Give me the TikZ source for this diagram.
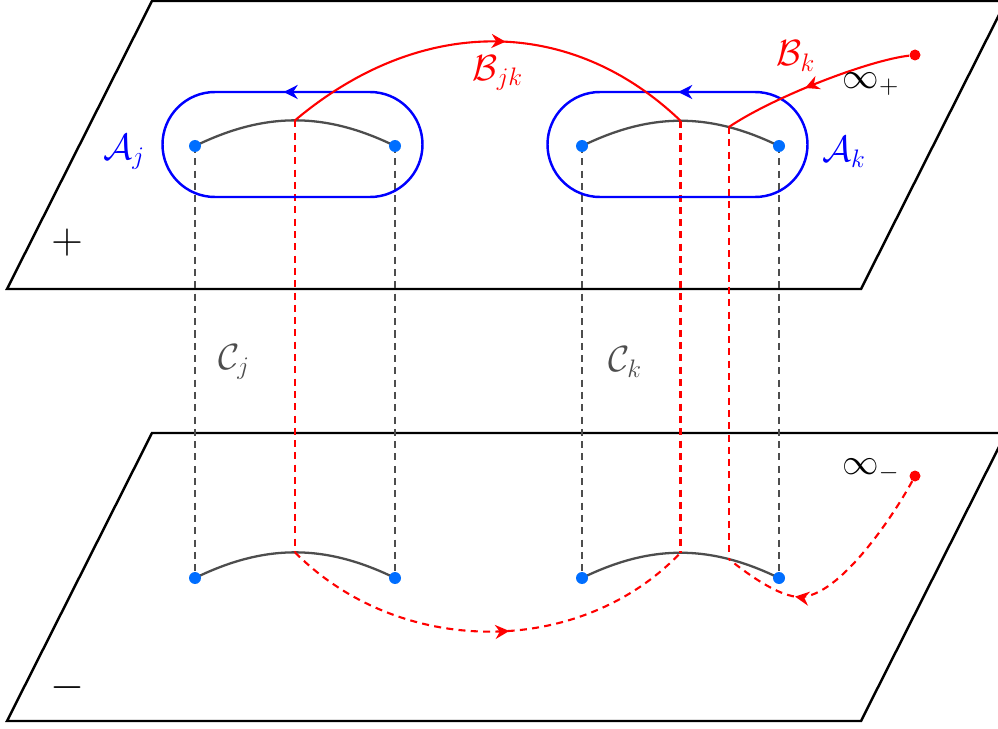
\documentclass[tikz,border=0pt]{standalone}
\usepackage{amsmath,amssymb}
\usepackage{tikz}
\usetikzlibrary{arrows.meta,decorations.markings}

\definecolor{cutblue}{RGB}{0,110,255}
\definecolor{cutgray}{RGB}{77,77,77}

\begin{document}
\begin{tikzpicture}[x=0.02cm,y=0.02cm,
    sheet/.style={line width=1.4pt},
    cut/.style={cutgray,line width=1.3pt},
    hidden/.style={dash pattern=on 4pt off 3pt},
    acyc/.style={blue,line width=1.4pt},
    bcyc/.style={red,line width=1.2pt},
    branchpt/.style={circle,fill=cutblue,inner sep=0pt,minimum size=0.24cm},
    infpt/.style={circle,fill=red,inner sep=0pt,minimum size=0.22cm},
    lbl/.style={font=\huge},
    midarrow/.style={postaction={decorate},decoration={markings,
      mark=at position #1 with {\arrow{Stealth[length=8pt,width=8pt]}}}}]
  \useasboundingbox (0,0) rectangle (998,728);
  % the two sheets
  \draw[sheet] (152,727) -- (1006,727) -- (861,439) -- (7,439) -- cycle;
  \draw[sheet] (152,295) -- (1006,295) -- (861,7) -- (7,7) -- cycle;
  \node[font=\Huge] (plus) at (67,485) {$+$};
  \node[font=\Huge] (minus) at (67,40) {$-$};
  % branch points, upper (u) and lower (l) sheet, with their cuts
  \foreach \n/\xa/\xb in {j/195/395,k/582/779} {
    \coordinate (u\n1) at (\xa,582);
    \coordinate (u\n2) at (\xb,582);
    \coordinate (l\n1) at (\xa,150);
    \coordinate (l\n2) at (\xb,150);
    \draw[cut,hidden] (u\n1) -- (l\n1);
    \draw[cut,hidden] (u\n2) -- (l\n2);
    \draw[cut] (u\n1) to[bend left=26] coordinate[pos=0.5] (pu\n) coordinate[pos=0.75] (qu\n) (u\n2);
    \draw[cut] (l\n1) to[bend left=26] coordinate[pos=0.5] (pl\n) coordinate[pos=0.75] (ql\n) (l\n2);
  }
  % red lines passing between the sheets
  \draw[bcyc,hidden] (puj) -- (plj);
  \draw[bcyc,hidden] (puk) -- (plk);
  \draw[bcyc,hidden] (quk) -- (qlk);
  % a-cycles
  \foreach \xa/\pos in {163/0.135,548/0.12} {
    \draw[acyc,midarrow=\pos] (\xa+207,636) -- (\xa+52,636)
      arc[start angle=90,end angle=270,radius=52.5] -- (\xa+207,531)
      arc[start angle=-90,end angle=90,radius=52.5] -- cycle;
  }
  % b-cycles
  \node[infpt] (infu) at (915,673) {};
  \node[infpt] (infl) at (915,252) {};
  \draw[bcyc,midarrow=0.54] (puj) .. controls (420,713) and (570,713) .. (puk);
  \draw[bcyc,midarrow=0.56] (infu) .. controls (870,668) and (775,632) .. (quk);
  \draw[bcyc,hidden,midarrow=0.55] (plj) .. controls (400,70) and (580,70) .. (plk);
  \draw[bcyc,hidden,midarrow=0.69] (infl) .. controls (895,215) and (840,131) .. (800,131)
    .. controls (780,131) and (750,152) .. (qlk);
  \foreach \p in {uj1,uj2,uk1,uk2,lj1,lj2,lk1,lk2}
    \node[branchpt] at (\p) {};
  % labels
  \node[lbl,blue] (Aj) at (124,576) {$\mathcal{A}_j$};
  \node[lbl,blue] (Ak) at (844,576) {$\mathcal{A}_k$};
  \node[lbl,red] (Bjk) at (498,655) {$\mathcal{B}_{jk}$};
  \node[lbl,red] (Bk) at (796,672) {$\mathcal{B}_k$};
  \node[lbl,cutgray] (Cj) at (234,366) {$\mathcal{C}_j$};
  \node[lbl,cutgray] (Ck) at (625,366) {$\mathcal{C}_k$};
  \node[lbl] (infp) at (871,644) {$\infty_+$};
  \node[lbl] (infm) at (871,258) {$\infty_-$};
\end{tikzpicture}
\end{document}
